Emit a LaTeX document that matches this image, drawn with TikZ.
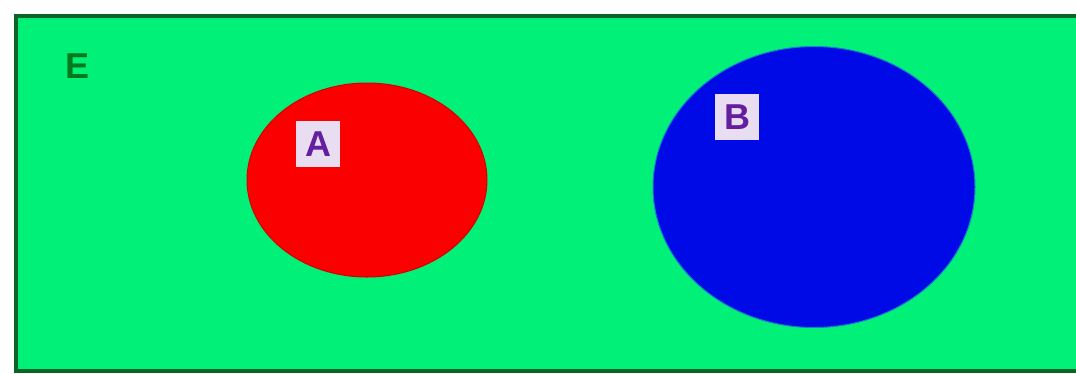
\documentclass[tikz,border=0pt]{standalone}
\usepackage{fontspec}
\setmainfont{Liberation Sans}
\usetikzlibrary{shapes.geometric}
\definecolor{bggreen}{RGB}{0,240,120}
\definecolor{edgegreen}{RGB}{10,100,40}
\definecolor{txtgreen}{RGB}{0,120,30}
\definecolor{setred}{RGB}{250,0,0}
\definecolor{setblue}{RGB}{0,10,230}
\definecolor{lblpurple}{RGB}{100,30,160}
\begin{document}
\begin{tikzpicture}[x=1pt,y=-1pt,
  setlabel/.style={fill=white!85!lblpurple,text=lblpurple,inner sep=0pt,minimum width=44pt,minimum height=46pt,font=\bfseries\fontsize{36}{40}\selectfont},
]
\useasboundingbox (0,0) rectangle (1076,373);
\fill[white] (0,0) rectangle (1076,373);
\node[draw=edgegreen,line width=3.5pt,fill=bggreen,rectangle,minimum width=1080pt,minimum height=355pt,anchor=north west,inner sep=0pt] (E) at (14,14) {};
\node[text=txtgreen,font=\bfseries\fontsize{36}{40}\selectfont] (Elbl) at (78,66) {E};
\node[draw=setred!85!black,line width=1pt,fill=setred,ellipse,minimum width=240pt,minimum height=194pt,inner sep=0pt] (A) at (367,180) {};
\node[draw=cyan!60!setblue,line width=1pt,fill=setblue,ellipse,minimum width=322pt,minimum height=281pt,inner sep=0pt] (B) at (814,187) {};
\node[setlabel] (Albl) at (318,144) {A};
\node[setlabel] (Blbl) at (737,117) {B};
\end{tikzpicture}
\end{document}
